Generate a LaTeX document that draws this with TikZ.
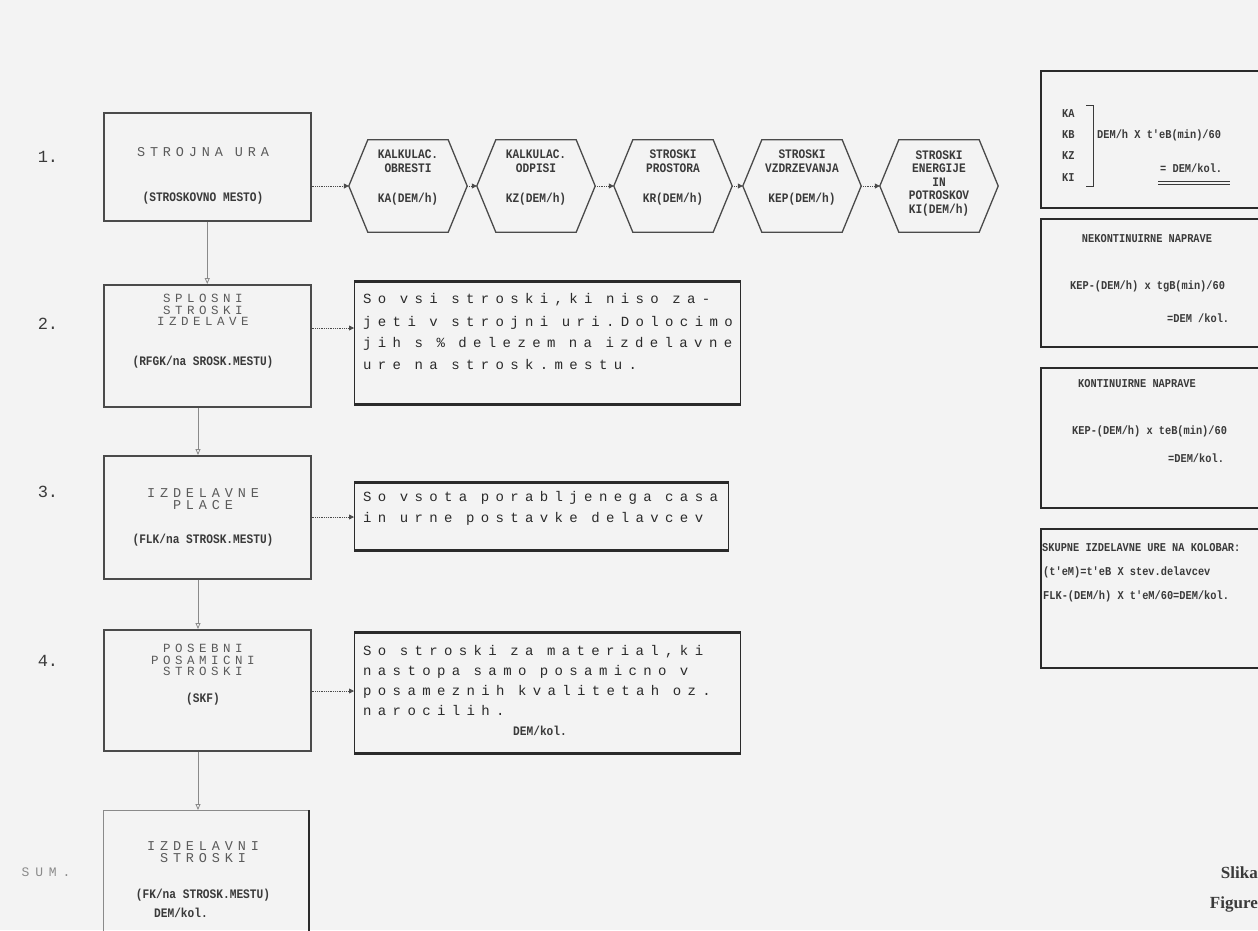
\documentclass[tikz,border=0pt]{standalone}
\usepackage{fontspec}
\setmainfont{Liberation Serif}
\newfontfamily\dgTitle[LetterSpace=36]{Liberation Mono}
\newfontfamily\dgWide[LetterSpace=45]{Liberation Mono}
\newfontfamily\dgBody[LetterSpace=45.5]{Liberation Mono}
\newfontfamily\dgNar[FakeStretch=0.86]{Liberation Mono}
\newfontfamily\dgMono{Liberation Mono}
\newcommand\dgBodyFont{\dgBody\fontsize{14}{22}\selectfont\fontdimen2\font=13.5pt\fontdimen3\font=0pt\fontdimen4\font=0pt\relax}
\usetikzlibrary{arrows.meta,calc}
\definecolor{bgc}{HTML}{F3F3F3}
\definecolor{lc}{HTML}{4A4A4A}
\definecolor{dk}{HTML}{2A2A2A}
\definecolor{tc}{HTML}{5A5A5A}
\definecolor{nc}{HTML}{3A3A3A}
\definecolor{cc}{HTML}{8A8A8A}
\begin{document}
\begin{tikzpicture}[x=1pt,y=-1pt,
  lbox/.style={draw=lc,line width=1.5pt,anchor=north west,inner sep=0pt},
  rbox/.style={draw=dk,line width=2.4pt,anchor=north west,inner sep=0pt},
  tbox/.style={draw=dk,line width=1.3pt,anchor=north west,inner sep=0pt},
  hexn/.style={inner sep=0pt,minimum width=118pt,minimum height=92pt},
  hexline/.style={draw=lc,line width=1.3pt},
  vcon/.style={draw=cc,line width=0.8pt,-{Triangle[open,length=6pt,width=5pt]}},
  dcon/.style={draw=lc,densely dotted,line width=0.8pt,-{Triangle[length=5pt,width=5pt]}},
  ttl/.style={font=\dgTitle\fontsize{13.5}{12}\selectfont,text=tc,align=center,inner sep=0pt},
  ttlt/.style={font=\dgTitle\fontsize{12.5}{11.5}\selectfont,text=tc,align=center,inner sep=0pt},
  sub/.style={font=\dgNar\bfseries\fontsize{13}{13}\selectfont,text=nc,inner sep=0pt},
  hx/.style={font=\dgNar\bfseries\fontsize{13}{13.5}\selectfont,text=nc,align=center,inner sep=0pt},
  body/.style={font=\dgBodyFont,text=dk,anchor=base west,inner sep=0pt},
  rt/.style={font=\dgNar\bfseries\fontsize{12}{14}\selectfont,text=nc,inner sep=0pt,anchor=base west},
  num/.style={font=\dgMono\fontsize{17}{17}\selectfont,text=nc,inner sep=0pt}]
\useasboundingbox (0,0) rectangle (1258,930);
\fill[bgc] (0,0) rectangle (1258,930);
\clip (0,0) rectangle (1258,930);

% ---- left column boxes
\node[lbox,minimum width=207pt,minimum height=108pt] (b1) at (103,112) {};
\node[lbox,minimum width=207pt,minimum height=122pt] (b2) at (103,284) {};
\node[lbox,minimum width=207pt,minimum height=123pt] (b3) at (103,455) {};
\node[lbox,minimum width=207pt,minimum height=121pt] (b4) at (103,629) {};
\node[lbox,draw=cc,line width=1pt,minimum width=205pt,minimum height=130pt] (b5) at (103,810) {};
\draw[dk,line width=2pt] (b5.north east) -- (b5.south east);

% labels left
\node[num] (n1) at (48,157) {1.};
\node[num] (n2) at (48,324) {2.};
\node[num] (n3) at (48,492) {3.};
\node[num] (n4) at (48,661) {4.};
\node[font=\dgWide\fontsize{13}{13}\selectfont,text=cc,inner sep=0pt] (n5) at (46,872) {SUM.};

% box texts
\node[ttl] (t1a) at (203,152) {STROJNA\hspace{12pt}URA};
\node[sub] (t1b) at (203,198) {(STROSKOVNO MESTO)};
\node[ttlt] (t2a) at (203,310) {SPLOSNI\\STROSKI\\IZDELAVE};
\node[sub] (t2b) at (203,362) {(RFGK/na SROSK.MESTU)};
\node[ttl] (t3a) at (203,499) {IZDELAVNE\\PLACE};
\node[sub] (t3b) at (203,540) {(FLK/na STROSK.MESTU)};
\node[ttlt] (t4a) at (203,660) {POSEBNI\\POSAMICNI\\STROSKI};
\node[sub] (t4b) at (203,699) {(SKF)};
\node[ttl] (t5a) at (203,852) {IZDELAVNI\\STROSKI};
\node[sub] (t5b) at (203,895) {(FK/na STROSK.MESTU)};
\node[sub] (t5c) at (181,913) {DEM/kol.};

% vertical connectors
\draw[vcon] (b1.south) -- (b2.north);
\draw[vcon] (b2.south -| 198,0) -- (b3.north -| 198,0);
\draw[vcon] (b3.south -| 198,0) -- (b4.north -| 198,0);
\draw[vcon] (b4.south -| 198,0) -- (b5.north -| 198,0);

% ---- hexagons
\node[hexn] (h1) at (408,186) {};
\node[hexn] (h2) at (536,186) {};
\node[hexn] (h3) at (673,186) {};
\node[hexn] (h4) at (802,186) {};
\node[hexn] (h5) at (939,186) {};
\foreach \h in {h1,h2,h3,h4,h5}
  \draw[hexline] (\h.west) -- ([xshift=19pt]\h.north west) -- ([xshift=-19pt]\h.north east)
    -- (\h.east) -- ([xshift=-19pt]\h.south east) -- ([xshift=19pt]\h.south west) -- cycle;
\node[hx] (x1a) at (408,161) {KALKULAC.\\OBRESTI};
\node[hx] (x1b) at (408,199) {KA(DEM/h)};
\node[hx] (x2a) at (536,161) {KALKULAC.\\ODPISI};
\node[hx] (x2b) at (536,199) {KZ(DEM/h)};
\node[hx] (x3a) at (673,161) {STROSKI\\PROSTORA};
\node[hx] (x3b) at (673,199) {KR(DEM/h)};
\node[hx] (x4a) at (802,161) {STROSKI\\VZDRZEVANJA};
\node[hx] (x4b) at (802,199) {KEP(DEM/h)};
\node[hx] (x5a) at (939,183) {STROSKI\\ENERGIJE\\IN\\POTROSKOV\\KI(DEM/h)};

\draw[dcon] (b1.east |- h1.west) -- (h1.west);
\draw[dcon] (h1.east) -- (h2.west);
\draw[dcon] (h2.east) -- (h3.west);
\draw[dcon] (h3.east) -- (h4.west);
\draw[dcon] (h4.east) -- (h5.west);

% ---- text boxes
\node[tbox,minimum width=386pt,minimum height=122pt] (s2) at (354,281) {};
\node[tbox,minimum width=374pt,minimum height=67pt] (s3) at (354,482) {};
\node[tbox,minimum width=386pt,minimum height=120pt] (s4) at (354,632) {};
\foreach \s in {s2,s3,s4}{
  \draw[dk,line width=3pt] (\s.north west) -- (\s.north east);
  \draw[dk,line width=3pt] (\s.south west) -- (\s.south east);}
\node[body] (l21) at (363,303) {So vsi stroski,ki niso za-};
\node[body] (l22) at (363,326) {jeti v strojni uri.Dolocimo};
\node[body] (l23) at (363,347) {jih s \% delezem na izdelavne};
\node[body] (l24) at (363,369) {ure na strosk.mestu.};
\node[body] (l31) at (363,501) {So vsota porabljenega casa};
\node[body] (l32) at (363,522) {in urne postavke delavcev};
\node[body] (l41) at (363,655) {So stroski za material,ki};
\node[body] (l42) at (363,675) {nastopa samo posamicno v};
\node[body] (l43) at (363,695) {posameznih kvalitetah oz.};
\node[body] (l44) at (363,715) {narocilih.};
\node[sub] (l45) at (540,731) {DEM/kol.};

\coordinate (y2) at (0,328);
\coordinate (y3) at (0,517);
\coordinate (y4) at (0,691);
\draw[dcon] (b2.east |- y2) -- (s2.west |- y2);
\draw[dcon] (b3.east |- y3) -- (s3.west |- y3);
\draw[dcon] (b4.east |- y4) -- (s4.west |- y4);

% ---- right boxes
\node[rbox,minimum width=228pt,minimum height=137pt] (r1) at (1040,70) {};
\node[rbox,minimum width=228pt,minimum height=128pt] (r2) at (1040,218) {};
\node[rbox,minimum width=228pt,minimum height=140pt] (r3) at (1040,367) {};
\node[rbox,minimum width=228pt,minimum height=139pt] (r4) at (1040,528) {};

\node[rt] (k1) at (1062,117) {KA};
\node[rt] (k2) at (1062,138) {KB};
\node[rt] (k3) at (1062,159) {KZ};
\node[rt] (k4) at (1062,181) {KI};
\coordinate (bt) at (1093,105);
\coordinate (bb) at (1093,186);
\draw[nc,line width=0.9pt] ([xshift=-7pt]bt) -- (bt) -- (bb) -- ([xshift=-7pt]bb);
\node[rt] (k5) at (1097,138) {DEM/h X t'eB(min)/60};
\node[rt] (k6) at (1160,172) {= DEM/kol.};
\coordinate (u1) at (1158,181);
\coordinate (u2) at (1230,181);
\draw[nc,line width=0.8pt] (u1) -- (u2);
\draw[nc,line width=0.8pt] ([yshift=-3pt]u1) -- ([yshift=-3pt]u2);

\node[rt,anchor=base] (m1) at (1147,242) {NEKONTINUIRNE NAPRAVE};
\node[rt] (m2) at (1070,289) {KEP-(DEM/h) x tgB(min)/60};
\node[rt] (m3) at (1167,322) {=DEM /kol.};

\node[rt] (c1) at (1078,387) {KONTINUIRNE NAPRAVE};
\node[rt] (c2) at (1072,434) {KEP-(DEM/h) x teB(min)/60};
\node[rt] (c3) at (1168,462) {=DEM/kol.};

\node[rt] (d1) at (1042,551) {SKUPNE IZDELAVNE URE NA KOLOBAR:};
\node[rt] (d2) at (1043,575) {(t'eM)=t'eB X stev.delavcev};
\node[rt] (d3) at (1043,599) {FLK-(DEM/h) X t'eM/60=DEM/kol.};

% ---- caption
\node[font=\bfseries\fontsize{17}{17}\selectfont,text=nc,anchor=base east,inner sep=0pt] (f1) at (1258,878) {Slika};
\node[font=\bfseries\fontsize{17}{17}\selectfont,text=nc,anchor=base east,inner sep=0pt] (f2) at (1258,908) {Figure};
\end{tikzpicture}
\end{document}
